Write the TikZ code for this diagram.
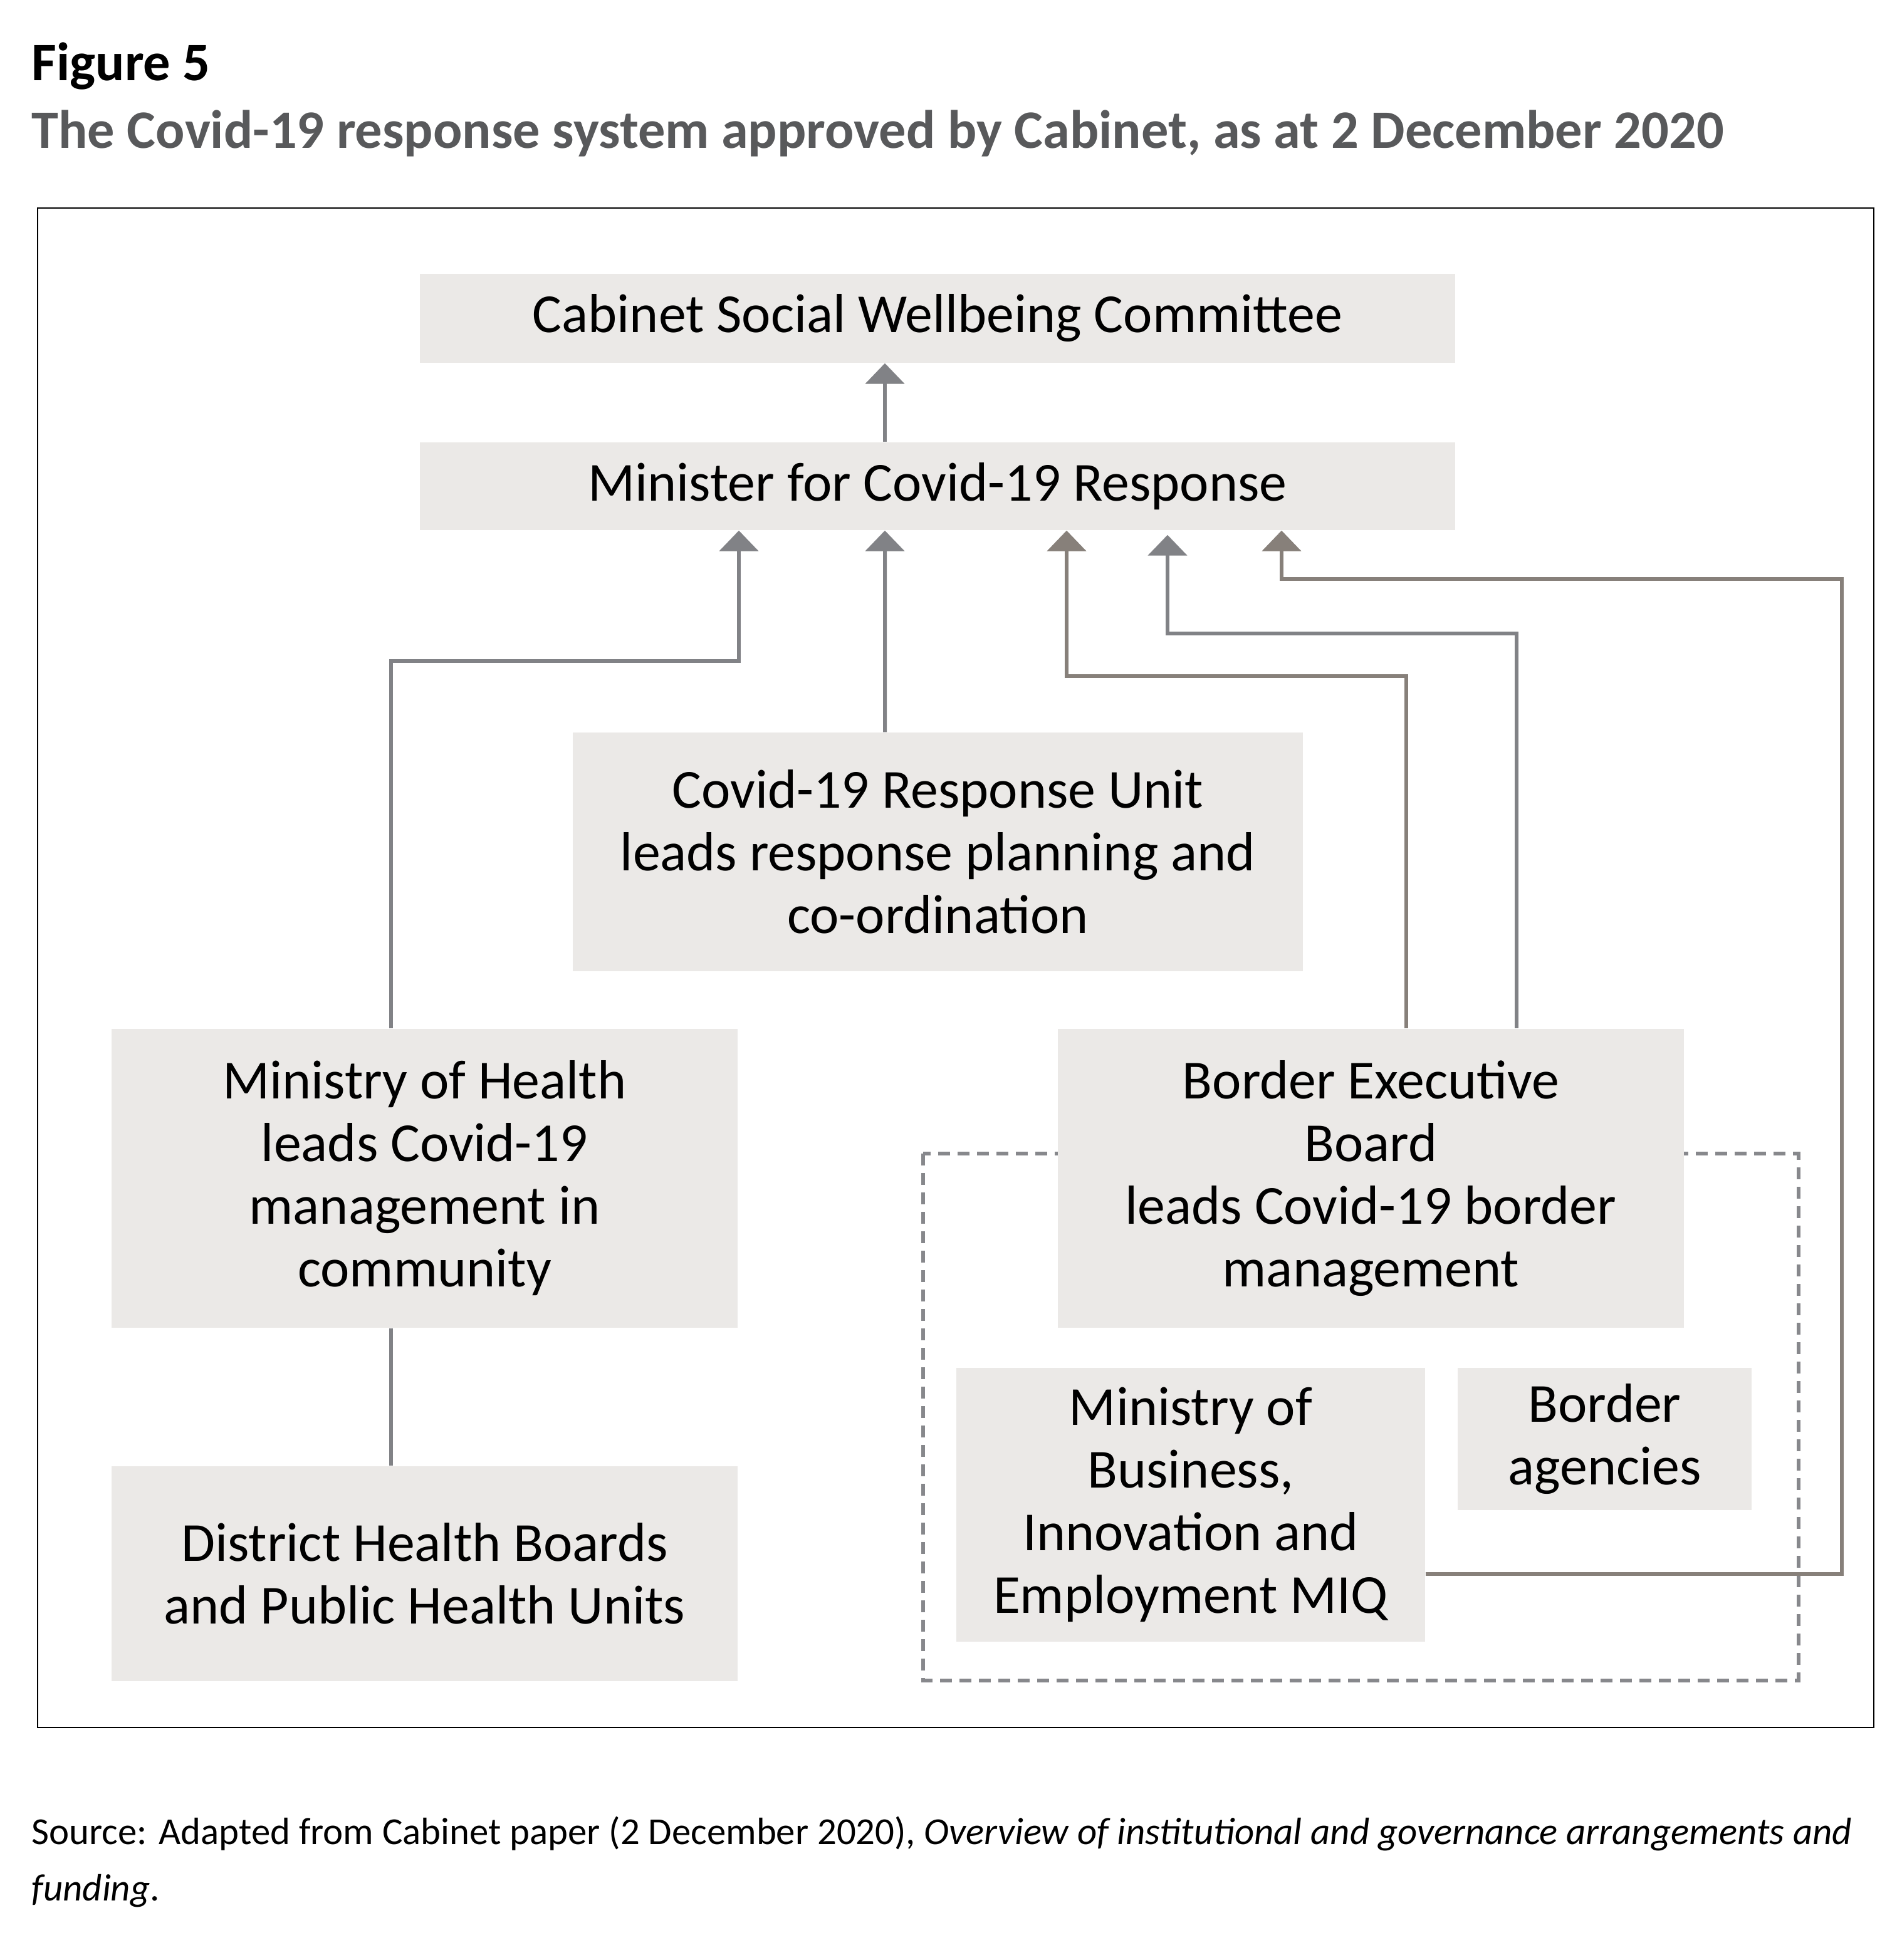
\documentclass[tikz,border=0pt]{standalone}
\usepackage{fontspec}
\setmainfont{Carlito}
\usetikzlibrary{positioning,arrows.meta,backgrounds}
\definecolor{boxfill}{RGB}{235,233,231}
\definecolor{linkblue}{RGB}{129,130,134}
\definecolor{linkbrown}{RGB}{135,128,122}
\definecolor{dashgray}{RGB}{135,136,140}
\definecolor{titlegray}{RGB}{88,89,91}

\begin{document}
\begin{tikzpicture}[
  bx/.style={fill=boxfill,inner sep=0pt,align=center,
             font=\fontsize{25}{28.45}\selectfont},
  hd/.style={anchor=base west,inner sep=0pt,font=\fontsize{24.6}{29}\selectfont\bfseries},
  src/.style={anchor=base west,inner sep=0pt,font=\fontsize{17.3}{20}\selectfont},
  ln/.style={draw=linkblue,line width=0.06cm},
  lnb/.style={draw=linkbrown,line width=0.06cm},
  arr/.style={-{Triangle[width=0.62cm,length=0.33cm]}}
]
\useasboundingbox (0,0) rectangle (30.35,-31.28);
% heading
\node[hd] (fig) at (0.5,-1.28) {Figure 5};
\node[hd,text=titlegray] (ttl) at (0.5,-2.36) {The Covid-19 response system approved by Cabinet, as at 2 December 2020};
% frame
\draw[line width=0.7pt] (0.60,-3.32) rectangle (29.90,-27.57);
% boxes
\node[bx,minimum width=16.52cm,minimum height=1.42cm] (cab)  at (14.96,-5.08) {Cabinet Social Wellbeing Committee};
\node[bx,minimum width=16.52cm,minimum height=1.40cm] (mini) at (14.96,-7.76) {Minister for Covid-19 Response};
\node[bx,minimum width=11.65cm,minimum height=3.81cm] (unit) at (14.965,-13.595)
  {Covid-19 Response Unit\\leads response planning and\\co-ordination};
\node[bx,minimum width=9.99cm,minimum height=4.77cm] (moh) at (6.775,-18.805)
  {Ministry of Health\\leads Covid-19\\management in\\community};
\node[bx,minimum width=9.99cm,minimum height=3.43cm] (dhb) at (6.775,-25.115)
  {District Health Boards\\and Public Health Units};
\node[bx,minimum width=9.99cm,minimum height=4.77cm] (beb) at (21.875,-18.805)
  {Border Executive\\Board\\leads Covid-19 border\\management};
\node[bx,minimum width=7.48cm,minimum height=4.37cm] (mbie) at (19.0,-24.015)
  {Ministry of\\Business,\\Innovation and\\Employment MIQ};
\node[bx,minimum width=4.69cm,minimum height=2.27cm] (bag) at (25.605,-22.965)
  {Border\\agencies};
% border group
\begin{scope}[on background layer]
  \draw[dashgray,line width=0.06cm,dash pattern=on 0.19cm off 0.12cm]
    (14.73,-18.41) rectangle (28.70,-26.82);
\end{scope}
% bends
\coordinate (bmoh)   at (11.79,-10.55);
\coordinate (bbeba)  at (17.02,-10.79);
\coordinate (bbebb)  at (18.63,-10.11);
\coordinate (bmbie)  at (29.39,-9.24);
\coordinate (bmbieb) at (20.45,-9.24);
% reporting lines
\draw[ln,arr] ([xshift=-8.4mm]mini.north) -- ([xshift=-8.4mm]cab.south);
\draw[ln,arr] ([xshift=-8.45mm]unit.north) -- ([xshift=-8.4mm]mini.south);
\draw[ln,arr] ([xshift=-5.35mm]moh.north) |- (bmoh) -- (bmoh |- mini.south);
\draw[lnb,arr] ([xshift=5.65mm]beb.north) |- (bbeba) -- (bbeba |- mini.south);
\draw[ln,arr] ([xshift=23.25mm]beb.north) |- (bbebb) -- ([yshift=-0.7mm]bbebb |- mini.south);
\draw[lnb,arr] ([yshift=-11mm]mbie.east) -| (bmbie) -- (bmbieb) -- (bmbieb |- mini.south);
\draw[ln] ([xshift=-5.35mm]moh.south) -- ([xshift=-5.35mm]dhb.north);
% source
\node[src] (srca) at (0.5,-29.43) {Source: Adapted from Cabinet paper (2 December 2020), \textit{Overview of institutional and governance arrangements and}};
\node[src] (srcb) at ([yshift=-0.9cm]srca.base west) {\textit{funding}.};
\end{tikzpicture}
\end{document}
